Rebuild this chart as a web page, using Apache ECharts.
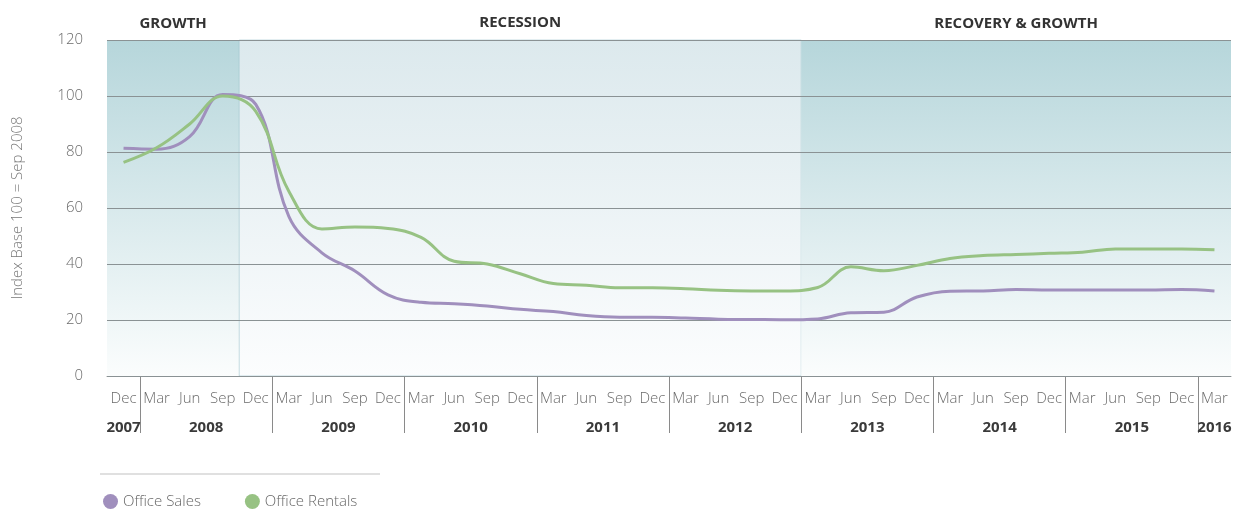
<!DOCTYPE html>
<html>
<head>
<meta charset="utf-8">
<title>Office Sales / Office Rentals</title>
<script src="https://cdn.jsdelivr.net/npm/echarts@6/dist/echarts.min.js"></script>
<style>
  html, body { margin: 0; padding: 0; background: #fff; }
  #chart { width: 1238px; height: 522px; }
</style>
</head>
<body>
<div id="chart"></div>
<script>
// quarter labels, Dec 2007 .. Mar 2016
const months = ["Dec",
  "Mar", "Jun", "Sep", "Dec", "Mar", "Jun", "Sep", "Dec",
  "Mar", "Jun", "Sep", "Dec", "Mar", "Jun", "Sep", "Dec",
  "Mar", "Jun", "Sep", "Dec", "Mar", "Jun", "Sep", "Dec",
  "Mar", "Jun", "Sep", "Dec", "Mar", "Jun", "Sep", "Dec",
  "Mar"];
const years = ["2007", "2008", "2009", "2010", "2011", "2012", "2013", "2014", "2015", "2016"];
const quartersPerYear = [1, 4, 4, 4, 4, 4, 4, 4, 4, 1];

// market phases and how many quarters each covers
const phases = ["GROWTH", "RECESSION", "RECOVERY & GROWTH"];
const phaseQuarters = [4, 17, 13];

const officeSales = [81.3, 81, 85.5, 100.5, 97, 57, 44, 37.5, 29, 26.3, 25.8, 25, 23.8, 23, 21.6, 21, 21,
  20.7, 20.3, 20.2, 20.1, 20.4, 22.6, 22.8, 28.2, 30.3, 30.4, 30.9, 30.7, 30.7, 30.7, 30.7, 30.9, 30.4];
const officeRentals = [76.3, 81.5, 90, 100, 94.5, 66, 52.5, 53.2, 52.7, 49.5, 41, 40, 36.5, 33, 32.4, 31.5, 31.5,
  31.2, 30.6, 30.4, 30.4, 31.6, 39, 37.6, 39.5, 42, 43, 43.4, 43.8, 44.2, 45.4, 45.4, 45.4, 45.1];

// category names: "Dec 2007" ...
const categories = [];
const yearOf = [];
years.forEach((y, i) => {
  for (let k = 0; k < quartersPerYear[i]; k++) yearOf.push(y);
});
months.forEach((m, i) => categories.push(m + " " + yearOf[i]));

// year label positions (middle of each year) and separators, in quarter units
const yearCenters = [];
const yearBreaks = [];
let acc = 0;
quartersPerYear.forEach((n, i) => {
  yearCenters.push(acc + n / 2);
  acc += n;
  if (i < quartersPerYear.length - 1) yearBreaks.push(acc);
});

const font = "'Open Sans', 'Noto Sans', sans-serif";
const dark = new echarts.graphic.LinearGradient(0, 0, 0, 1, [
  { offset: 0, color: "#b6d6db" },
  { offset: 1, color: "#fbfdfd" }
]);
const light = new echarts.graphic.LinearGradient(0, 0, 0, 1, [
  { offset: 0, color: "#dce9ed" },
  { offset: 1, color: "#fcfdfe" }
]);
const phaseStyles = [
  { color: dark, opacity: 1 },
  { color: light, opacity: 1, borderColor: "rgba(130,180,190,0.45)", borderWidth: 1 },
  { color: dark, opacity: 1 }
];
const phaseAreas = [];
let start = 0;
phases.forEach((p, i) => {
  phaseAreas.push([
    { name: p, xAxis: start, itemStyle: phaseStyles[i] },
    { xAxis: start + phaseQuarters[i] }
  ]);
  start += phaseQuarters[i];
});

const chart = echarts.init(document.getElementById("chart"));
chart.setOption({
  animation: false,
  textStyle: { fontFamily: font },
  grid: { left: 107, right: 7, top: 40, bottom: 146 },
  legend: {
    data: ["Office Sales", "Office Rentals"],
    left: 98,
    top: 489,
    icon: "circle",
    itemWidth: 15,
    itemHeight: 15,
    itemGap: 44,
    textStyle: { fontSize: 15, color: "#666", fontFamily: font, fontWeight: 300 }
  },
  graphic: [{
    type: "line",
    shape: { x1: 100, y1: 474, x2: 380, y2: 474 },
    style: { stroke: "#e0e0e0", lineWidth: 2 }
  }],
  xAxis: [
    {
      type: "category",
      data: categories,
      boundaryGap: true,
      axisLine: { lineStyle: { color: "#999", width: 1 } },
      axisTick: { show: false },
      axisLabel: {
        interval: 0,
        margin: 15,
        fontSize: 15,
        color: "#6b6b6b",
        fontWeight: 300,
        formatter: v => v.split(" ")[0]
      },
      splitLine: { show: false }
    },
    {
      type: "value",
      position: "bottom",
      min: 0,
      max: months.length,
      axisLine: { show: false },
      splitLine: { show: false },
      axisTick: {
        show: true,
        customValues: yearBreaks,
        length: 57,
        lineStyle: { color: "#8a8a8a", width: 1 }
      },
      axisLabel: {
        customValues: yearCenters,
        margin: 44,
        fontSize: 15,
        fontWeight: "bold",
        color: "#3a3a3a",
        formatter: v => {
          const i = yearCenters.findIndex(c => Math.abs(c - v) < 1e-6);
          return i >= 0 ? years[i] : "";
        }
      }
    }
  ],
  yAxis: {
    type: "value",
    min: 0,
    max: 120,
    interval: 20,
    z: 1,
    name: "Index Base 100 = Sep 2008",
    nameLocation: "middle",
    nameGap: 82,
    nameTextStyle: { fontSize: 15, color: "#777", fontWeight: 300 },
    axisLine: { show: false },
    axisTick: { show: false },
    axisLabel: { margin: 24, fontSize: 15, color: "#6b6b6b", fontWeight: 300 },
    splitLine: { lineStyle: { color: "#8a9294", width: 1 } }
  },
  series: [
    {
      type: "line",
      xAxisIndex: 1,
      data: [],
      silent: true,
      markArea: {
        silent: true,
        z: 0,
        label: {
          show: true,
          position: "top",
          distance: 9,
          fontSize: 15,
          fontWeight: "bold",
          color: "#333",
          fontFamily: font
        },
        data: phaseAreas
      }
    },
    {
      name: "Office Sales",
      type: "line",
      data: officeSales,
      smooth: 0.4,
      showSymbol: false,
      z: 3,
      itemStyle: { color: "#a08fbd" },
      lineStyle: { color: "#a08fbd", width: 3 }
    },
    {
      name: "Office Rentals",
      type: "line",
      data: officeRentals,
      smooth: 0.4,
      showSymbol: false,
      z: 3,
      itemStyle: { color: "#97c283" },
      lineStyle: { color: "#97c283", width: 3 }
    }
  ]
});
window.addEventListener("resize", () => {
  chart.resize();
});
</script>
</body>
</html>
